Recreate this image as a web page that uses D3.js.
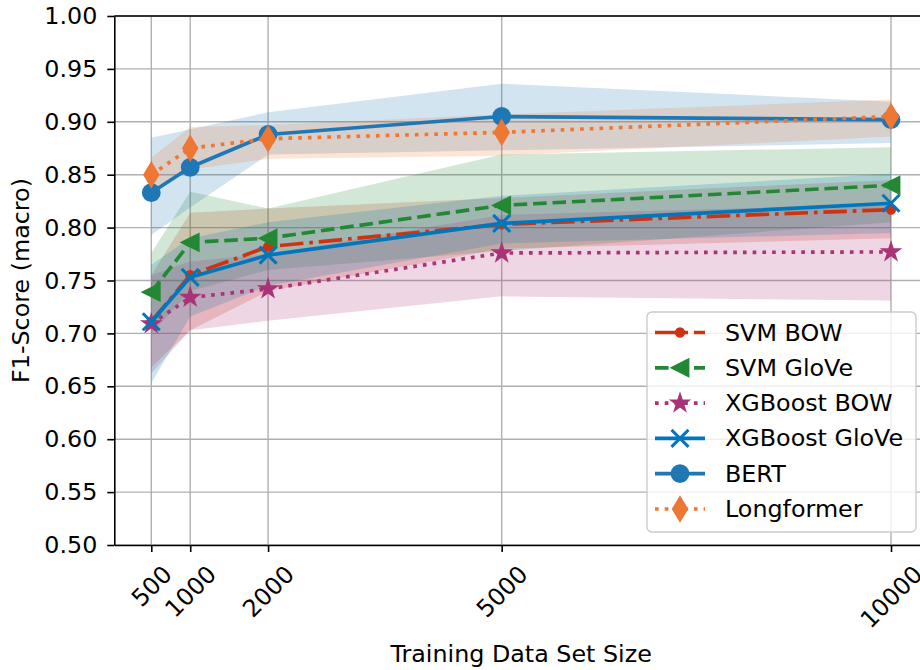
<!DOCTYPE html>
<html>
  <head>
    <meta charset="utf-8">
    <title>F1-Score vs Training Data Set Size</title>
    <style type="text/css">
      body {
        margin: 0;
        background: #fff;
        overflow: hidden;
      }
      text {
        font-family: "DejaVu Sans", sans-serif;
        fill: #000;
      }
    </style>
    <script src="https://d3js.org/d3.v7.min.js"></script>
  </head>
  <body>
    <svg width="920" height="670"></svg>
    <script>
      // training set sizes (x) and y tick labels
      const sizes = [500, 1000, 2000, 5000, 10000];
      const yTickValues = [0.50, 0.55, 0.60, 0.65, 0.70, 0.75, 0.80, 0.85, 0.90, 0.95, 1.00];
      const modelNames = ['SVM BOW', 'SVM GloVe', 'XGBoost BOW', 'XGBoost GloVe', 'BERT', 'Longformer'];

      // mean F1 per model, and lower / upper edge of the shaded band
      const svmBowMean = [0.711, 0.755, 0.782, 0.803, 0.817];
      const svmBowLow  = [0.668, 0.703, 0.740, 0.780, 0.790];
      const svmBowHigh = [0.755, 0.814, 0.818, 0.828, 0.845];

      const svmGloveMean = [0.739, 0.786, 0.790, 0.821, 0.840];
      const svmGloveLow  = [0.700, 0.740, 0.760, 0.778, 0.805];
      const svmGloveHigh = [0.776, 0.834, 0.818, 0.869, 0.876];

      const xgbBowMean = [0.709, 0.734, 0.742, 0.776, 0.777];
      const xgbBowLow  = [0.662, 0.703, 0.712, 0.735, 0.731];
      const xgbBowHigh = [0.755, 0.768, 0.775, 0.812, 0.822];

      const xgbGloveMean = [0.711, 0.753, 0.774, 0.804, 0.823];
      const xgbGloveLow  = [0.653, 0.716, 0.745, 0.785, 0.795];
      const xgbGloveHigh = [0.765, 0.790, 0.805, 0.830, 0.851];

      const bertMean = [0.833, 0.857, 0.888, 0.905, 0.902];
      const bertLow  = [0.793, 0.819, 0.869, 0.873, 0.880];
      const bertHigh = [0.885, 0.893, 0.909, 0.936, 0.919];

      const longMean = [0.850, 0.875, 0.884, 0.890, 0.905];
      const longLow  = [0.835, 0.855, 0.865, 0.868, 0.886];
      const longHigh = [0.866, 0.895, 0.897, 0.907, 0.921];

      const lw = 3.67;
      const dashes = {
        solid: null,
        dashed: `${3.7 * lw},${1.6 * lw}`,
        dashdot: `${6.4 * lw},${1.6 * lw},${lw},${1.6 * lw}`,
        dotted: `${lw},${1.65 * lw}`
      };

      const series = [
        { mean: svmBowMean, low: svmBowLow, high: svmBowHigh, color: '#cc3311', dash: 'dashdot', marker: 'point' },
        { mean: svmGloveMean, low: svmGloveLow, high: svmGloveHigh, color: '#228833', dash: 'dashed', marker: 'triangle' },
        { mean: xgbBowMean, low: xgbBowLow, high: xgbBowHigh, color: '#aa3377', dash: 'dotted', marker: 'star' },
        { mean: xgbGloveMean, low: xgbGloveLow, high: xgbGloveHigh, color: '#0077bb', dash: 'solid', marker: 'x' },
        { mean: bertMean, low: bertLow, high: bertHigh, color: '#1f77b4', dash: 'solid', marker: 'circle' },
        { mean: longMean, low: longLow, high: longHigh, color: '#ee7733', dash: 'dotted', marker: 'diamond' }
      ].map((s, i) => ({ ...s, name: modelNames[i] }));

      const svg = d3.select('svg');
      const margin = { left: 114.3, top: 16, bottom: 545, right: 928 };

      const xScale = d3.scaleLinear().domain([25, 10475]).range([margin.left, margin.right]);
      const yScale = d3.scaleLinear().domain([0.5, 1.0]).range([margin.bottom, margin.top]);

      // grid
      const grid = svg.append('g')
        .attr('stroke', '#b0b0b0')
        .attr('stroke-width', 1.4);
      grid.selectAll('.gx').data(sizes).enter().append('line')
        .attr('x1', d => xScale(d)).attr('x2', d => xScale(d))
        .attr('y1', margin.top).attr('y2', margin.bottom);
      grid.selectAll('.gy').data(yTickValues).enter().append('line')
        .attr('x1', margin.left).attr('x2', margin.right)
        .attr('y1', d => yScale(d)).attr('y2', d => yScale(d));

      // bands
      const area = d3.area()
        .x(d => xScale(d.x))
        .y0(d => yScale(d.lo))
        .y1(d => yScale(d.hi));
      series.forEach(s => {
        const pts = sizes.map((x, i) => ({ x, lo: s.low[i], hi: s.high[i] }));
        svg.append('path')
          .attr('d', area(pts))
          .attr('fill', s.color)
          .attr('fill-opacity', 0.2);
      });

      function starPath(r) {
        const inner = r * 0.381966;
        const pts = d3.range(10).map(k => {
          const a = -Math.PI / 2 + k * Math.PI / 5;
          const rr = k % 2 === 0 ? r : inner;
          return [rr * Math.cos(a), rr * Math.sin(a)];
        });
        return 'M' + pts.map(p => p.join(',')).join('L') + 'Z';
      }

      function drawMarker(g, type, color) {
        const ms = 17;
        if (type === 'circle') {
          g.append('circle').attr('r', ms / 2)
            .attr('fill', color).attr('stroke', color).attr('stroke-width', 1.8);
        } else if (type === 'point') {
          g.append('circle').attr('r', ms / 4)
            .attr('fill', color).attr('stroke', color).attr('stroke-width', 1.8);
        } else if (type === 'diamond') {
          const h = ms * Math.SQRT1_2, w = 0.6 * h;
          g.append('path').attr('d', `M0,${-h}L${w},0L0,${h}L${-w},0Z`)
            .attr('fill', color).attr('stroke', color).attr('stroke-width', 1.8);
        } else if (type === 'triangle') {
          const r = ms / 2;
          g.append('path').attr('d', `M${-r},0L${r},${-r}L${r},${r}Z`)
            .attr('fill', color).attr('stroke', color).attr('stroke-width', 1.8);
        } else if (type === 'star') {
          g.append('path').attr('d', starPath(ms / 2 + 0.5))
            .attr('fill', color).attr('stroke', color).attr('stroke-width', 1.8)
            .attr('stroke-linejoin', 'miter');
        } else if (type === 'x') {
          const r = ms / 2;
          g.append('path').attr('d', `M${-r},${-r}L${r},${r}M${-r},${r}L${r},${-r}`)
            .attr('fill', 'none').attr('stroke', color).attr('stroke-width', 3);
        }
      }

      // lines and markers
      const line = d3.line()
        .x(d => xScale(d.x))
        .y(d => yScale(d.y));
      series.forEach(s => {
        const pts = sizes.map((x, i) => ({ x, y: s.mean[i] }));
        svg.append('path')
          .attr('d', line(pts))
          .attr('fill', 'none')
          .attr('stroke', s.color)
          .attr('stroke-width', lw)
          .attr('stroke-dasharray', dashes[s.dash])
          .attr('stroke-linejoin', 'round')
          .attr('stroke-linecap', 'butt');
        pts.forEach(p => {
          const g = svg.append('g')
            .attr('transform', `translate(${xScale(p.x)},${yScale(p.y)})`);
          drawMarker(g, s.marker, s.color);
        });
      });

      // axes
      const fontSize = 23.8;
      const yAxis = svg.append('g')
        .attr('transform', `translate(${margin.left},0)`)
        .call(d3.axisLeft(yScale).tickValues(yTickValues).tickFormat(d3.format('.2f'))
          .tickSize(7).tickSizeOuter(0).tickPadding(10));
      const xAxis = svg.append('g')
        .attr('transform', `translate(0,${margin.bottom})`)
        .call(d3.axisBottom(xScale).tickValues(sizes).tickFormat(d => d)
          .tickSize(7).tickSizeOuter(0));
      [yAxis, xAxis].forEach(a => {
        a.attr('font-family', null).attr('font-size', null);
        a.select('.domain').attr('stroke', '#000').attr('stroke-width', 1.6);
        a.selectAll('.tick line').attr('stroke', '#000').attr('stroke-width', 1.6);
        a.selectAll('.tick text').style('font-size', fontSize + 'px');
      });
      svg.append('line')
        .attr('x1', margin.left).attr('x2', margin.right)
        .attr('y1', margin.top).attr('y2', margin.top)
        .attr('stroke', '#000').attr('stroke-width', 1.6);

      xAxis.selectAll('.tick text')
        .attr('y', 0).attr('dy', null)
        .attr('text-anchor', 'middle')
        .attr('dominant-baseline', 'central')
        .attr('transform', function() {
          const w = this.getComputedTextLength();
          const h = fontSize * 1.1;
          return `translate(0,${16 + (w + h) / (2 * Math.SQRT2)}) rotate(-45)`;
        });

      svg.append('text')
        .attr('x', (margin.left + margin.right) / 2)
        .attr('y', 662)
        .attr('text-anchor', 'middle')
        .style('font-size', fontSize + 'px')
        .text('Training Data Set Size');

      svg.append('text')
        .attr('transform', `translate(29,${(margin.top + margin.bottom) / 2}) rotate(-90)`)
        .attr('text-anchor', 'middle')
        .style('font-size', fontSize + 'px')
        .text('F1-Score (macro)');

      // legend
      const legend = svg.append('g').attr('transform', 'translate(647,312)');
      legend.append('rect')
        .attr('width', 269).attr('height', 220).attr('rx', 5)
        .attr('fill', '#fff').attr('fill-opacity', 0.8)
        .attr('stroke', '#cccccc').attr('stroke-width', 1.4);
      series.forEach((s, i) => {
        const row = legend.append('g').attr('transform', `translate(0,${20.5 + i * 35.3})`);
        row.append('line')
          .attr('x1', 8).attr('x2', 58)
          .attr('stroke', s.color).attr('stroke-width', lw)
          .attr('stroke-dasharray', dashes[s.dash]);
        const mg = row.append('g').attr('transform', 'translate(33,0)');
        drawMarker(mg, s.marker, s.color);
        row.append('text')
          .attr('x', 78)
          .attr('dominant-baseline', 'central')
          .style('font-size', fontSize + 'px')
          .text(s.name);
      });
    </script>
  </body>
</html>
